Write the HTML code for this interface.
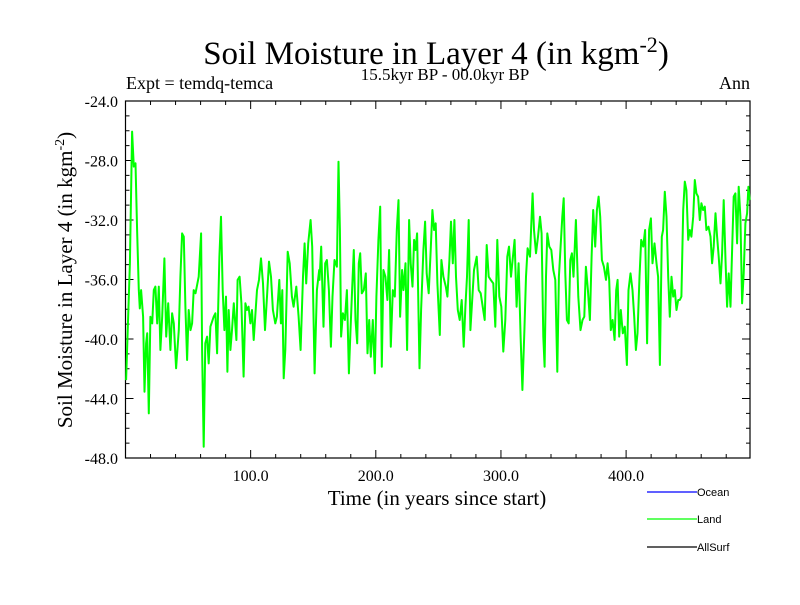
<!DOCTYPE html>
<html><head><meta charset="utf-8"><style>
html,body{margin:0;padding:0;background:#fff;}
svg text{font-family:"Liberation Serif",serif;}
</style></head><body>
<svg id="chart" width="800" height="600" viewBox="0 0 800 600" xmlns="http://www.w3.org/2000/svg">
<rect x="0" y="0" width="800" height="600" fill="#fff"/>
<text x="436" y="64" text-anchor="middle" font-size="33">Soil Moisture in Layer 4 (in kgm<tspan dy="-12" font-size="22">-2</tspan><tspan dy="12">)</tspan></text>
<text x="126" y="89" font-size="18">Expt = temdq-temca</text>
<text x="445" y="80" text-anchor="middle" font-size="17">15.5kyr BP - 00.0kyr BP</text>
<text x="750" y="89" text-anchor="end" font-size="18">Ann</text>
<text x="437" y="505" text-anchor="middle" font-size="21">Time (in years since start)</text>
<text transform="translate(72,280) rotate(-90)" text-anchor="middle" font-size="21">Soil Moisture in Layer 4 (in kgm<tspan dy="-8" font-size="14">-2</tspan><tspan dy="8">)</tspan></text>
<g id="axes"></g>
<g id="series"></g>
<g>
<line x1="647" y1="492" x2="697" y2="492" stroke="#0000ff" stroke-width="1.3"/>
<text x="697" y="496" font-size="11" style="font-family:'Liberation Sans',sans-serif">Ocean</text>
<line x1="647" y1="519" x2="697" y2="519" stroke="#00ff00" stroke-width="1.3"/>
<text x="697" y="523" font-size="11" style="font-family:'Liberation Sans',sans-serif">Land</text>
<line x1="647" y1="547" x2="697" y2="547" stroke="#000" stroke-width="1.3"/>
<text x="697" y="551" font-size="11" style="font-family:'Liberation Sans',sans-serif">AllSurf</text>
</g>
</svg>
<script>
const yTickValues=[-24,-28,-32,-36,-40,-44,-48];
const yTickLabels=["-24.0","-28.0","-32.0","-36.0","-40.0","-44.0","-48.0"];
const xTickValues=[100,200,300,400];
const xTickLabels=["100.0","200.0","300.0","400.0"];
const landYears=[0.5,3.5,5.3,6.6,8.0,9.3,10.6,11.4,12.5,14.1,15.2,16.5,17.3,18.6,19.9,21.3,22.6,23.9,25.3,26.6,27.9,29.3,31.1,32.5,34.1,35.9,37.2,38.6,40.4,42.6,43.9,45.2,46.6,47.9,49.2,50.5,51.9,53.2,54.5,55.9,58.5,60.4,61.2,62.5,63.8,65.2,66.5,67.8,70.5,71.8,73.2,75.0,76.3,77.7,79.0,80.3,81.4,82.5,83.8,85.1,86.5,88.6,89.6,91.2,92.6,94.4,95.8,97.1,98.4,99.8,101.1,102.4,105.1,106.7,108.3,109.9,111.5,113.1,114.7,116.3,117.8,119.7,121.0,122.9,124.2,125.3,126.4,127.7,129.6,131.2,133.0,134.3,136.5,138.3,139.9,141.8,143.1,144.4,146.0,147.9,149.2,151.1,152.9,154.8,
155.0,156.4,158.2,159.6,160.9,162.5,164.1,165.4,167.0,168.9,170.2,171.3,172.3,173.7,175.3,176.9,178.5,179.8,181.1,182.4,183.8,185.1,186.4,187.5,188.8,190.4,192.0,193.4,194.7,196.0,197.6,199.2,200.5,202.1,203.5,204.8,206.1,207.7,209.3,210.6,212.0,213.6,215.2,216.8,218.1,219.4,221.0,222.1,223.7,225.0,226.6,227.9,229.3,230.6,231.7,233.0,234.9,236.2,238.0,239.4,240.7,242.3,243.9,245.2,246.6,247.9,249.2,251.1,252.4,254.0,255.9,257.2,258.8,260.1,261.5,262.8,264.1,265.5,267.0,268.6,270.2,271.6,272.9,274.2,275.6,277.2,278.5,280.6,282.2,283.8,285.4,287.0,288.6,290.2,291.8,293.9,295.5,297.1,298.7,300.3,301.9,303.5,305.1,306.4,308.0,309.3,310.9,312.5,314.1,315.7,317.1,318.7,320.0,321.3,323.2,
324.5,325.3,326.4,328.0,329.6,331.2,332.5,333.8,334.9,336.0,337.0,338.6,340.2,341.8,343.4,345.0,346.3,347.7,349.0,350.1,351.4,352.7,354.1,355.4,356.7,358.0,359.9,361.8,363.6,365.2,366.6,367.9,369.5,371.1,372.4,373.7,375.3,376.7,378.0,379.3,380.7,382.3,383.9,385.2,386.5,387.8,389.2,390.8,392.1,393.2,394.5,395.8,397.4,399.0,400.6,401.9,403.5,405.1,406.5,407.8,409.1,410.7,412.1,413.7,415.2,416.8,418.4,419.8,421.1,422.7,424.3,425.6,427.0,428.5,429.6,430.9,432.3,433.6,434.9,436.3,437.6,438.9,440.3,441.6,442.9,444.2,445.6,446.9,448.2,449.6,450.9,452.2,453.6,454.9,456.2,457.5,458.9,460.2,461.5,462.9,464.2,465.8,467.4,468.7,470.0,471.4,472.7,474.0,475.4,476.7,478.0,479.4,480.7,482.0,483.4,484.7,486.0,487.3,488.7,490.0,491.3,492.7,494.0,495.3,496.7,497.7,498.8];
const landValues=[-42.76,-34.91,-26.06,-28.41,-28.19,-32.67,-36.71,-37.94,-36.71,-38.50,-43.54,-40.29,-39.62,-45.00,-38.50,-38.95,-36.71,-36.48,-38.95,-36.48,-40.74,-38.50,-34.58,-39.84,-37.60,-40.74,-38.27,-38.95,-41.97,-39.40,-35.81,-32.90,-33.12,-37.83,-41.41,-38.05,-39.40,-38.95,-36.71,-36.93,-35.81,-32.90,-40.74,-47.24,-40.29,-39.84,-41.64,-39.17,-38.50,-38.27,-40.96,-34.47,-31.78,-36.71,-39.40,-37.15,-42.20,-38.05,-40.74,-39.40,-37.60,-40.07,-36.03,-35.81,-37.60,-42.53,-37.60,-38.05,-37.83,-38.95,-38.05,-40.07,-36.71,-36.03,-34.58,-36.26,-39.40,-37.15,-34.80,-35.81,-38.05,-38.95,-38.50,-36.03,-38.95,-36.71,-42.64,-40.74,-34.13,-34.91,-37.15,-37.83,-36.48,-38.50,-40.74,-35.81,-33.57,-36.26,-33.57,-32.00,-33.79,-42.31,-36.71,-35.36,
-36.03,-33.79,-39.17,-34.91,-34.69,-36.71,-40.52,-37.15,-34.69,-35.14,-28.08,-32.67,-39.84,-38.27,-38.72,-36.71,-42.31,-39.40,-36.71,-34.02,-38.72,-40.29,-34.91,-34.24,-36.93,-36.71,-35.59,-40.96,-38.72,-41.19,-38.72,-42.31,-37.15,-33.34,-31.10,-41.86,-35.36,-35.81,-37.38,-34.02,-40.52,-36.71,-37.15,-32.67,-30.66,-38.50,-35.36,-36.71,-34.91,-40.74,-32.00,-34.91,-36.48,-33.34,-34.02,-32.90,-41.97,-38.05,-34.02,-32.11,-35.59,-36.93,-34.02,-31.33,-32.67,-32.22,-36.26,-39.73,-34.69,-35.81,-36.48,-37.15,-34.69,-32.11,-34.91,-32.00,-35.81,-38.05,-38.72,-37.38,-40.52,-37.83,-35.81,-32.00,-39.40,-37.15,-35.36,-34.47,-36.71,-36.93,-37.83,-38.72,-33.68,-35.81,-36.03,-36.26,-39.17,-33.34,-37.15,-37.83,-40.85,-38.72,-34.47,-33.79,-35.81,-34.69,-33.34,-37.83,-34.91,-39.84,-43.43,-39.40,-35.81,-33.90,-34.47,
-31.78,-30.21,-32.67,-34.24,-33.12,-31.78,-32.90,-39.84,-41.86,-35.81,-32.90,-33.79,-34.02,-35.36,-36.03,-42.20,-35.81,-33.79,-31.78,-30.54,-35.59,-38.72,-38.95,-34.69,-34.24,-35.81,-32.00,-37.15,-39.40,-38.72,-38.50,-35.14,-36.71,-38.72,-34.47,-31.33,-33.79,-31.33,-30.43,-31.78,-34.69,-35.14,-36.03,-34.91,-36.03,-39.40,-38.72,-40.07,-36.71,-36.03,-39.84,-38.05,-39.62,-39.17,-41.75,-36.71,-35.59,-36.71,-38.50,-40.74,-39.62,-35.81,-33.34,-33.79,-32.67,-40.29,-32.67,-31.89,-34.91,-33.57,-34.91,-35.81,-41.75,-33.12,-32.67,-30.10,-31.78,-35.81,-38.50,-35.81,-37.15,-36.71,-38.05,-37.38,-37.38,-37.15,-31.33,-29.42,-29.98,-33.34,-32.67,-33.12,-31.78,-29.31,-30.21,-30.43,-32.00,-30.88,-31.33,-31.10,-32.67,-32.45,-33.12,-34.91,-33.79,-31.55,-33.12,-34.47,-36.26,-34.24,-30.66,-34.69,-37.83,-35.59,-37.83,-34.02,-30.43,-30.21,-33.57,-29.76,-31.78,-37.60,-35.59,-32.22,-31.55,-29.76,-30.66];

const NS='http://www.w3.org/2000/svg';
const L=125.5,R=750,T=101,B=458;
const xMin=0,xMax=499,yMin=-48,yMax=-24;
function xScale(v){return L+(v-xMin)/(xMax-xMin)*(R-L);}
function yScale(v){return B-(v-yMin)/(yMax-yMin)*(B-T);}
const axes=document.getElementById('axes');
function mk(tag,attrs,parent){const e=document.createElementNS(NS,tag);for(const k in attrs)e.setAttribute(k,attrs[k]);parent.appendChild(e);return e;}
const frame=mk('rect',{x:L,y:T,width:R-L,height:B-T,fill:'none',stroke:'#000','stroke-width':1.2},axes);


for(let v=yMin;v<=yMax;v+=1){
  const major=(v%4===0);const len=major?8:4;const y=yScale(v);
  const t1=mk('line',{x1:L,y1:y,x2:L+len,y2:y,stroke:'#000','stroke-width':1},axes);
  
  
  const t2=mk('line',{x1:R,y1:y,x2:R-len,y2:y,stroke:'#000','stroke-width':1},axes);
  
  
}
for(let v=20;v<xMax;v+=20){
  const major=(v%100===0);const len=major?8:4;const x=xScale(v);
  const t1=mk('line',{x1:x,y1:B,x2:x,y2:B-len,stroke:'#000','stroke-width':1},axes);
  
  
  const t2=mk('line',{x1:x,y1:T,x2:x,y2:T+len,stroke:'#000','stroke-width':1},axes);
  
  
}
yTickValues.forEach((v,i)=>{
  const t=mk('text',{x:118,y:yScale(v)+6,'text-anchor':'end','font-size':16},axes);
  t.textContent=yTickLabels[i];
  
  
});
xTickValues.forEach((v,i)=>{
  const t=mk('text',{x:xScale(v),y:481,'text-anchor':'middle','font-size':16},axes);
  t.textContent=xTickLabels[i];
  
  
});
const pts=landYears.map((yr,i)=>xScale(yr).toFixed(1)+','+yScale(landValues[i]).toFixed(1)).join(' ');
const line=mk('polyline',{points:pts,fill:'none',stroke:'#00ff00','stroke-width':2,'stroke-linejoin':'round'},document.getElementById('series'));


</script>
</body></html>
